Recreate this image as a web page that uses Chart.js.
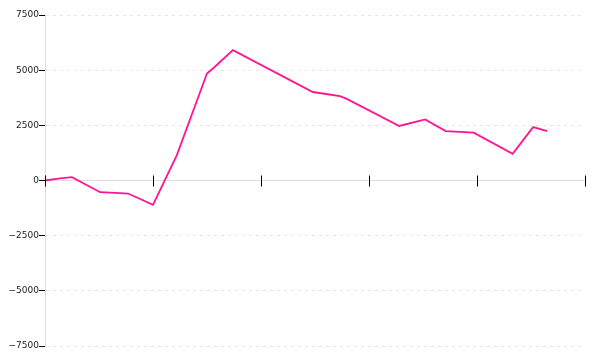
<!DOCTYPE html>
<html>
<head>
<meta charset="utf-8">
<script src="https://cdn.jsdelivr.net/npm/chart.js@4"></script>
<style>
	html, body { margin: 0; padding: 0; background: #fff; }
	#wrap { width: 600px; height: 360px; }
</style>
</head>
<body>
<div id="wrap"><canvas id="myChart"></canvas></div>
<script>
// positions along the x axis (tick every 10) and values
const xValues = [0, 1.4, 2.5, 5.1, 6.5, 7.7, 10.0, 12.2, 15.0, 15.6, 17.4, 24.8, 27.3, 27.9, 32.8, 35.2, 37.1, 39.7, 43.3, 45.2, 46.5];
const yValues = [0, 100, 150, -530, -560, -590, -1100, 1140, 4850, 5100, 5910, 4010, 3820, 3710, 2470, 2770, 2240, 2170, 1210, 2420, 2240];
const yTicks = [-7500, -5000, -2500, 0, 2500, 5000, 7500];

let points = xValues.map(function(x, i){
	return { x: x, y: yValues[i] };
});

// x tick marks cross the zero line, above and below
const crossTicks = {
	id: 'crossTicks',
	afterDraw: function(chart){
		let xs = chart.scales.x;
		let ys = chart.scales.y;
		let y0 = ys.getPixelForValue(0);
		let c = chart.ctx;
		c.save();
		c.strokeStyle = '#000';
		c.lineWidth = 1;
		xs.ticks.forEach(function(t){
			let px = Math.round(xs.getPixelForValue(t.value)) + 0.5;
			c.beginPath();
			c.moveTo(px, y0 - 5);
			c.lineTo(px, y0 + 6);
			c.stroke();
		});
		c.restore();
	}
};

const ctx = document.getElementById('myChart');

new Chart(ctx, {
	type: 'line',
	data: {
		datasets: [{
			data: points,
			borderColor: '#ff1493',
			borderWidth: 1.8,
			pointRadius: 0,
			fill: false,
			tension: 0
		}]
	},
	plugins: [crossTicks],
	options: {
		responsive: true,
		maintainAspectRatio: false,
		animation: false,
		layout: {
			padding: { top: 15, bottom: 14, right: 15, left: 0 }
		},
		plugins: {
			legend: { display: false },
			tooltip: { enabled: false }
		},
		scales: {
			x: {
				type: 'linear',
				position: { y: 0 },
				min: 0,
				max: 50,
				ticks: { display: false, stepSize: 10 },
				grid: { drawOnChartArea: false, drawTicks: false },
				border: { color: '#dddddd', width: 1 }
			},
			y: {
				min: -7500,
				max: 7500,
				afterFit: function(s){ s.width = 45; },
				afterBuildTicks: function(s){
					s.ticks = yTicks.map(function(v){ return { value: v }; });
				},
				ticks: {
					color: '#222',
					padding: 0,
					font: { family: 'DejaVu Sans', size: 9 },
					callback: function(v){ return v < 0 ? '\u2212' + Math.abs(v) : String(v); }
				},
				grid: {
					color: '#e6e6e6',
					tickColor: '#000',
					tickLength: 6
				},
				border: { color: '#dddddd', width: 1, dash: [3, 4] }
			}
		}
	}
});
</script>
</body>
</html>
